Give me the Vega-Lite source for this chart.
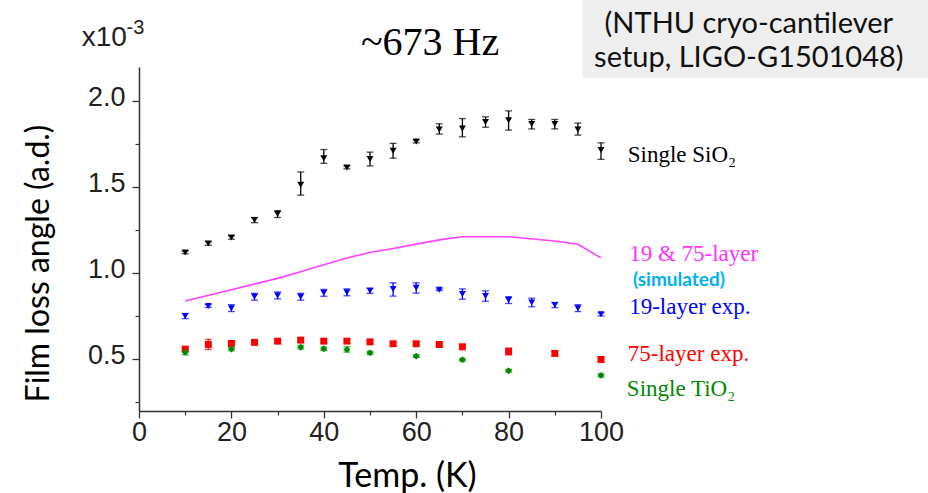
{
  "$schema": "https://vega.github.io/schema/vega-lite/v6.json",
  "width": 462,
  "height": 344,
  "autosize": {"type": "none"},
  "padding": {"left": 139, "top": 67, "right": 327, "bottom": 82},
  "background": "white",
  "config": {"view": {"stroke": null}},
  "datasets": {
    "exp": [
      {"series": "Single SiO2", "temp": 10, "value": 1.122, "lo": 1.114, "hi": 1.13},
      {"series": "Single SiO2", "temp": 15, "value": 1.174, "lo": 1.164, "hi": 1.184},
      {"series": "Single SiO2", "temp": 20, "value": 1.209, "lo": 1.199, "hi": 1.219},
      {"series": "Single SiO2", "temp": 25, "value": 1.31, "lo": 1.295, "hi": 1.325},
      {"series": "Single SiO2", "temp": 30, "value": 1.345, "lo": 1.325, "hi": 1.365},
      {"series": "Single SiO2", "temp": 35, "value": 1.515, "lo": 1.455, "hi": 1.59},
      {"series": "Single SiO2", "temp": 40, "value": 1.67, "lo": 1.64, "hi": 1.72},
      {"series": "Single SiO2", "temp": 45, "value": 1.616, "lo": 1.608, "hi": 1.624},
      {"series": "Single SiO2", "temp": 50, "value": 1.665, "lo": 1.625, "hi": 1.705},
      {"series": "Single SiO2", "temp": 55, "value": 1.713, "lo": 1.67, "hi": 1.756},
      {"series": "Single SiO2", "temp": 60, "value": 1.767, "lo": 1.759, "hi": 1.775},
      {"series": "Single SiO2", "temp": 65, "value": 1.837, "lo": 1.81, "hi": 1.87},
      {"series": "Single SiO2", "temp": 70, "value": 1.843, "lo": 1.794, "hi": 1.9},
      {"series": "Single SiO2", "temp": 75, "value": 1.88, "lo": 1.85, "hi": 1.91},
      {"series": "Single SiO2", "temp": 80, "value": 1.89, "lo": 1.833, "hi": 1.945},
      {"series": "Single SiO2", "temp": 85, "value": 1.868, "lo": 1.84, "hi": 1.895},
      {"series": "Single SiO2", "temp": 90, "value": 1.868, "lo": 1.84, "hi": 1.895},
      {"series": "Single SiO2", "temp": 95, "value": 1.837, "lo": 1.804, "hi": 1.874},
      {"series": "Single SiO2", "temp": 100, "value": 1.717, "lo": 1.663, "hi": 1.759},
      {"series": "19-layer exp.", "temp": 10, "value": 0.752, "lo": 0.737, "hi": 0.767},
      {"series": "19-layer exp.", "temp": 15, "value": 0.81, "lo": 0.802, "hi": 0.818},
      {"series": "19-layer exp.", "temp": 20, "value": 0.798, "lo": 0.778, "hi": 0.818},
      {"series": "19-layer exp.", "temp": 25, "value": 0.864, "lo": 0.844, "hi": 0.884},
      {"series": "19-layer exp.", "temp": 30, "value": 0.872, "lo": 0.852, "hi": 0.892},
      {"series": "19-layer exp.", "temp": 35, "value": 0.864, "lo": 0.844, "hi": 0.884},
      {"series": "19-layer exp.", "temp": 40, "value": 0.887, "lo": 0.867, "hi": 0.907},
      {"series": "19-layer exp.", "temp": 45, "value": 0.89, "lo": 0.87, "hi": 0.91},
      {"series": "19-layer exp.", "temp": 50, "value": 0.899, "lo": 0.884, "hi": 0.914},
      {"series": "19-layer exp.", "temp": 55, "value": 0.909, "lo": 0.868, "hi": 0.945},
      {"series": "19-layer exp.", "temp": 60, "value": 0.917, "lo": 0.885, "hi": 0.945},
      {"series": "19-layer exp.", "temp": 65, "value": 0.905, "lo": 0.9, "hi": 0.91},
      {"series": "19-layer exp.", "temp": 70, "value": 0.88, "lo": 0.85, "hi": 0.91},
      {"series": "19-layer exp.", "temp": 75, "value": 0.868, "lo": 0.838, "hi": 0.898},
      {"series": "19-layer exp.", "temp": 80, "value": 0.845, "lo": 0.825, "hi": 0.865},
      {"series": "19-layer exp.", "temp": 85, "value": 0.831, "lo": 0.806, "hi": 0.856},
      {"series": "19-layer exp.", "temp": 90, "value": 0.816, "lo": 0.801, "hi": 0.831},
      {"series": "19-layer exp.", "temp": 95, "value": 0.798, "lo": 0.778, "hi": 0.818},
      {"series": "19-layer exp.", "temp": 100, "value": 0.762, "lo": 0.752, "hi": 0.772},
      {"series": "75-layer exp.", "temp": 10, "value": 0.56, "lo": 0.55, "hi": 0.57},
      {"series": "75-layer exp.", "temp": 15, "value": 0.587, "lo": 0.557, "hi": 0.617},
      {"series": "75-layer exp.", "temp": 20, "value": 0.593, "lo": 0.583, "hi": 0.603},
      {"series": "75-layer exp.", "temp": 25, "value": 0.599, "lo": 0.589, "hi": 0.609},
      {"series": "75-layer exp.", "temp": 30, "value": 0.606, "lo": 0.596, "hi": 0.616},
      {"series": "75-layer exp.", "temp": 35, "value": 0.612, "lo": 0.6, "hi": 0.624},
      {"series": "75-layer exp.", "temp": 40, "value": 0.606, "lo": 0.596, "hi": 0.616},
      {"series": "75-layer exp.", "temp": 45, "value": 0.606, "lo": 0.594, "hi": 0.618},
      {"series": "75-layer exp.", "temp": 50, "value": 0.602, "lo": 0.59, "hi": 0.614},
      {"series": "75-layer exp.", "temp": 55, "value": 0.591, "lo": 0.581, "hi": 0.601},
      {"series": "75-layer exp.", "temp": 60, "value": 0.591, "lo": 0.581, "hi": 0.601},
      {"series": "75-layer exp.", "temp": 65, "value": 0.587, "lo": 0.572, "hi": 0.602},
      {"series": "75-layer exp.", "temp": 70, "value": 0.573, "lo": 0.558, "hi": 0.588},
      {"series": "75-layer exp.", "temp": 80, "value": 0.546, "lo": 0.526, "hi": 0.566},
      {"series": "75-layer exp.", "temp": 90, "value": 0.535, "lo": 0.52, "hi": 0.55},
      {"series": "75-layer exp.", "temp": 100, "value": 0.5, "lo": 0.485, "hi": 0.515},
      {"series": "Single TiO2", "temp": 10, "value": 0.542, "lo": 0.527, "hi": 0.557},
      {"series": "Single TiO2", "temp": 20, "value": 0.56, "lo": 0.55, "hi": 0.57},
      {"series": "Single TiO2", "temp": 35, "value": 0.571, "lo": 0.561, "hi": 0.581},
      {"series": "Single TiO2", "temp": 40, "value": 0.562, "lo": 0.552, "hi": 0.572},
      {"series": "Single TiO2", "temp": 45, "value": 0.558, "lo": 0.543, "hi": 0.573},
      {"series": "Single TiO2", "temp": 50, "value": 0.538, "lo": 0.528, "hi": 0.548},
      {"series": "Single TiO2", "temp": 60, "value": 0.519, "lo": 0.511, "hi": 0.527},
      {"series": "Single TiO2", "temp": 70, "value": 0.498, "lo": 0.49, "hi": 0.506},
      {"series": "Single TiO2", "temp": 80, "value": 0.434, "lo": 0.426, "hi": 0.442},
      {"series": "Single TiO2", "temp": 100, "value": 0.407, "lo": 0.397, "hi": 0.417}
    ],
    "sim": [
      {"temp": 10, "value": 0.839},
      {"temp": 20, "value": 0.905},
      {"temp": 30, "value": 0.971},
      {"temp": 35, "value": 1.009},
      {"temp": 40, "value": 1.05},
      {"temp": 45, "value": 1.09},
      {"temp": 50, "value": 1.122},
      {"temp": 55, "value": 1.145},
      {"temp": 60, "value": 1.17},
      {"temp": 65, "value": 1.195},
      {"temp": 70, "value": 1.213},
      {"temp": 80, "value": 1.213},
      {"temp": 90, "value": 1.188},
      {"temp": 95, "value": 1.169},
      {"temp": 100, "value": 1.09}
    ],
    "one": [{}]
  },
  "resolve": {"axis": {"x": "independent", "y": "independent"}},
  "layer": [
    {
      "data": {"name": "one"},
      "mark": {"type": "rect", "color": "#eeeeee", "clip": false},
      "encoding": {
        "x": {"datum": 96, "type": "quantitative", "axis": null},
        "x2": {"datum": 175},
        "y": {"datum": 2.6, "type": "quantitative", "axis": null},
        "y2": {"datum": 2.138}
      }
    },
    {
      "data": {"name": "sim"},
      "mark": {"type": "line", "color": "#ff40ff", "strokeWidth": 1.6},
      "encoding": {
        "x": {"field": "temp", "type": "quantitative", "scale": {"domain": [0, 100], "nice": false, "zero": false},
          "axis": {"orient": "bottom", "values": [0, 20, 40, 60, 80, 100], "grid": false, "tickSize": 7, "tickWidth": 1.3, "tickColor": "#333", "domainColor": "#333", "domainWidth": 1.5,
            "labelFont": "Liberation Sans", "labelFontSize": 27, "labelColor": "#222", "labelPadding": 1, "labelFlush": false,
            "title": "Temp. (K)", "titleFont": "Lato", "titleFontSize": 34, "titleFontWeight": "normal", "titleColor": "#000", "titleX": 268, "titleY": 75, "titleBaseline": "alphabetic", "titleAlign": "center"}},
        "y": {"field": "value", "type": "quantitative", "scale": {"domain": [0.2, 2.2], "nice": false, "zero": false},
          "axis": {"orient": "left", "values": [0.5, 1.0, 1.5, 2.0], "format": ".1f", "grid": false, "tickSize": 7, "tickWidth": 1.3, "tickColor": "#333", "domainColor": "#333", "domainWidth": 1.5,
            "labelFont": "Liberation Sans", "labelFontSize": 27, "labelColor": "#222", "labelPadding": 7, "labelOffset": -4, "labelFlush": false,
            "title": "Film loss angle  (a.d.)", "titleFont": "Lato", "titleFontSize": 32, "titleFontWeight": "normal", "titleColor": "#000", "titleX": -84, "titleY": 196, "titleBaseline": "bottom", "titleAngle": 270, "titleAlign": "center"}}
      }
    },
    {
      "data": {"name": "exp"},
      "mark": {"type": "errorbar", "ticks": true, "size": 7, "thickness": 1.3},
      "encoding": {
        "x": {"field": "temp", "type": "quantitative", "axis": null},
        "y": {"field": "lo", "type": "quantitative", "axis": null},
        "y2": {"field": "hi"},
        "color": {"field": "series", "type": "nominal", "legend": null,
          "scale": {"domain": ["Single SiO2", "19-layer exp.", "75-layer exp.", "Single TiO2"], "range": ["#000000", "#0000ff", "#ff0000", "#008a00"]}}
      }
    },
    {
      "data": {"name": "exp"},
      "mark": {"type": "point", "filled": true, "size": 48, "opacity": 1},
      "encoding": {
        "x": {"field": "temp", "type": "quantitative", "axis": null},
        "y": {"field": "value", "type": "quantitative", "axis": null},
        "color": {"field": "series", "type": "nominal", "legend": null},
        "shape": {"field": "series", "type": "nominal", "legend": null,
          "scale": {"domain": ["Single SiO2", "19-layer exp.", "75-layer exp.", "Single TiO2"], "range": ["triangle-down", "triangle-down", "square", "diamond"]}}
      }
    },
    {
      "data": {"name": "sim"},
      "mark": {"type": "point", "opacity": 0},
      "encoding": {
        "x": {"field": "temp", "type": "quantitative",
          "axis": {"orient": "bottom", "values": [10, 30, 50, 70, 90], "labels": false, "domain": false, "grid": false, "tickSize": 4, "tickWidth": 1.2, "tickColor": "#333", "title": null}},
        "y": {"field": "value", "type": "quantitative",
          "axis": {"orient": "left", "values": [0.25, 0.75, 1.25, 1.75], "labels": false, "domain": false, "grid": false, "tickSize": 4, "tickWidth": 1.2, "tickColor": "#333", "title": null}}
      }
    },
    {
      "data": {"name": "one"},
      "mark": {"type": "text", "font": "Liberation Serif", "fontSize": 40, "color": "#000", "align": "center", "baseline": "alphabetic"},
      "encoding": {
        "x": {"datum": 63, "type": "quantitative", "axis": null},
        "y": {"datum": 2.272, "type": "quantitative", "axis": null},
        "text": {"value": "~673 Hz"}
      }
    },
    {
      "data": {"name": "one"},
      "mark": {"type": "text", "font": "Lato", "fontSize": 29, "color": "#111", "align": "center", "baseline": "alphabetic"},
      "encoding": {
        "x": {"datum": 132, "type": "quantitative", "axis": null},
        "y": {"datum": 2.4, "type": "quantitative", "axis": null},
        "text": {"value": "(NTHU cryo-cantilever"}
      }
    },
    {
      "data": {"name": "one"},
      "mark": {"type": "text", "font": "Lato", "fontSize": 29, "color": "#111", "align": "center", "baseline": "alphabetic"},
      "encoding": {
        "x": {"datum": 132, "type": "quantitative", "axis": null},
        "y": {"datum": 2.2, "type": "quantitative", "axis": null},
        "text": {"value": "setup, LIGO-G1501048)"}
      }
    },
    {
      "data": {"name": "one"},
      "mark": {"type": "text", "font": "Liberation Sans", "fontSize": 28, "color": "#222", "align": "left", "baseline": "alphabetic"},
      "encoding": {
        "x": {"datum": -12.4, "type": "quantitative", "axis": null},
        "y": {"datum": 2.32, "type": "quantitative", "axis": null},
        "text": {"value": "x10"}
      }
    },
    {
      "data": {"name": "one"},
      "mark": {"type": "text", "font": "Liberation Sans", "fontSize": 20, "color": "#222", "align": "left", "baseline": "alphabetic"},
      "encoding": {
        "x": {"datum": -2.7, "type": "quantitative", "axis": null},
        "y": {"datum": 2.39, "type": "quantitative", "axis": null},
        "text": {"value": "-3"}
      }
    },
    {
      "data": {"name": "one"},
      "mark": {"type": "text", "font": "Liberation Serif", "fontSize": 23, "color": "#000", "align": "left", "baseline": "alphabetic"},
      "encoding": {
        "x": {"datum": 105.8, "type": "quantitative", "axis": null},
        "y": {"datum": 1.648, "type": "quantitative", "axis": null},
        "text": {"value": "Single SiO₂"}
      }
    },
    {
      "data": {"name": "one"},
      "mark": {"type": "text", "font": "Liberation Serif", "fontSize": 23, "color": "#ff33ff", "align": "left", "baseline": "alphabetic"},
      "encoding": {
        "x": {"datum": 106.1, "type": "quantitative", "axis": null},
        "y": {"datum": 1.07, "type": "quantitative", "axis": null},
        "text": {"value": "19 & 75-layer"}
      }
    },
    {
      "data": {"name": "one"},
      "mark": {"type": "text", "font": "Lato", "fontSize": 19, "fontWeight": "bold", "color": "#00b0f0", "align": "left", "baseline": "alphabetic"},
      "encoding": {
        "x": {"datum": 106.9, "type": "quantitative", "axis": null},
        "y": {"datum": 0.925, "type": "quantitative", "axis": null},
        "text": {"value": "(simulated)"}
      }
    },
    {
      "data": {"name": "one"},
      "mark": {"type": "text", "font": "Liberation Serif", "fontSize": 23, "color": "#0000ff", "align": "left", "baseline": "alphabetic"},
      "encoding": {
        "x": {"datum": 106.1, "type": "quantitative", "axis": null},
        "y": {"datum": 0.763, "type": "quantitative", "axis": null},
        "text": {"value": "19-layer exp."}
      }
    },
    {
      "data": {"name": "one"},
      "mark": {"type": "text", "font": "Liberation Serif", "fontSize": 23, "color": "#ff0000", "align": "left", "baseline": "alphabetic"},
      "encoding": {
        "x": {"datum": 105.8, "type": "quantitative", "axis": null},
        "y": {"datum": 0.489, "type": "quantitative", "axis": null},
        "text": {"value": "75-layer exp."}
      }
    },
    {
      "data": {"name": "one"},
      "mark": {"type": "text", "font": "Liberation Serif", "fontSize": 23, "color": "#008a00", "align": "left", "baseline": "alphabetic"},
      "encoding": {
        "x": {"datum": 105.6, "type": "quantitative", "axis": null},
        "y": {"datum": 0.286, "type": "quantitative", "axis": null},
        "text": {"value": "Single TiO₂"}
      }
    }
  ]
}
